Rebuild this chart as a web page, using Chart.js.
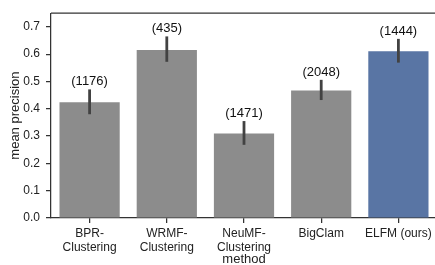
<!DOCTYPE html>
<html>
<head>
<meta charset="utf-8">
<script src="https://cdn.jsdelivr.net/npm/chart.js@4"></script>
<style>
  html, body { margin: 0; padding: 0; background: #fff; overflow: hidden; }
  #wrap { width: 440px; height: 265px; position: relative; }
</style>
</head>
<body>
<div id="wrap"><canvas id="chart"></canvas></div>
<script>
const methods = [["BPR-", "Clustering"], ["WRMF-", "Clustering"], ["NeuMF-", "Clustering"], "BigClam", "ELFM (ours)"];
const meanPrecision = [0.424, 0.615, 0.309, 0.467, 0.611];
const ciLow = [0.380, 0.572, 0.268, 0.432, 0.569];
const ciHigh = [0.471, 0.665, 0.355, 0.506, 0.656];
const counts = [1176, 435, 1471, 2048, 1444];
const barColors = ['#8c8c8c', '#8c8c8c', '#8c8c8c', '#8c8c8c', '#5975a4'];
const yTicks = [0, 0.1, 0.2, 0.3, 0.4, 0.5, 0.6, 0.7];

const font = "'Liberation Sans', Arial, sans-serif";

// error bars, counts above them and the top spine
const errorBars = {
  id: 'errorBars',
  afterDatasetsDraw(chart) {
    const ctx = chart.ctx;
    const y = chart.scales.y;
    const meta = chart.getDatasetMeta(0);
    ctx.save();
    meta.data.forEach((bar, i) => {
      const top = y.getPixelForValue(ciHigh[i]);
      const bottom = y.getPixelForValue(ciLow[i]);
      ctx.strokeStyle = '#424242';
      ctx.lineWidth = 2.8;
      ctx.beginPath();
      ctx.moveTo(bar.x, bottom);
      ctx.lineTo(bar.x, top);
      ctx.stroke();

      ctx.fillStyle = '#111';
      ctx.font = '13px ' + font;
      ctx.textAlign = 'center';
      ctx.textBaseline = 'alphabetic';
      ctx.fillText('(' + counts[i] + ')', bar.x, top - 4);
    });
    const a = chart.chartArea;
    ctx.strokeStyle = '#333';
    ctx.lineWidth = 1.25;
    ctx.beginPath();
    ctx.moveTo(a.left, a.top);
    ctx.lineTo(a.right, a.top);
    ctx.stroke();
    ctx.restore();
  }
};

new Chart(document.getElementById('chart'), {
  type: 'bar',
  data: {
    labels: methods,
    datasets: [{
      data: meanPrecision,
      backgroundColor: barColors,
      barPercentage: 0.78,
      categoryPercentage: 1.0
    }]
  },
  options: {
    responsive: true,
    maintainAspectRatio: false,
    animation: false,
    layout: { padding: { top: 11, right: 3, left: 8, bottom: 0 } },
    plugins: {
      legend: { display: false },
      tooltip: { enabled: false }
    },
    scales: {
      x: {
        offset: true,
        afterFit(scale) { scale.height = 47; },
        grid: { display: true, drawOnChartArea: false, tickLength: 5, tickColor: '#333', lineWidth: 1.25, offset: false },
        border: { color: '#333', width: 1.25 },
        ticks: { color: '#222', font: { family: font, size: 12 }, padding: 3, maxRotation: 0, autoSkip: false },
        title: { display: true, text: 'method', color: '#222', font: { family: font, size: 13, lineHeight: 1.0 }, padding: { top: 0, bottom: -1 } }
      },
      y: {
        min: 0,
        max: 0.75,
        afterFit(scale) { scale.width = 43; },
        afterBuildTicks(scale) {
          scale.ticks = yTicks.map(v => ({ value: v }));
        },
        grid: { display: true, drawOnChartArea: false, tickLength: 5, tickColor: '#333', lineWidth: 1.25 },
        border: { color: '#333', width: 1.25 },
        ticks: {
          color: '#222',
          font: { family: font, size: 12 },
          padding: 6,
          callback: v => Number(v).toFixed(1)
        },
        title: { display: true, text: 'mean precision', color: '#222', font: { family: font, size: 13 }, padding: { top: 0, bottom: 0 } }
      }
    }
  },
  plugins: [errorBars]
});
</script>
</body>
</html>
